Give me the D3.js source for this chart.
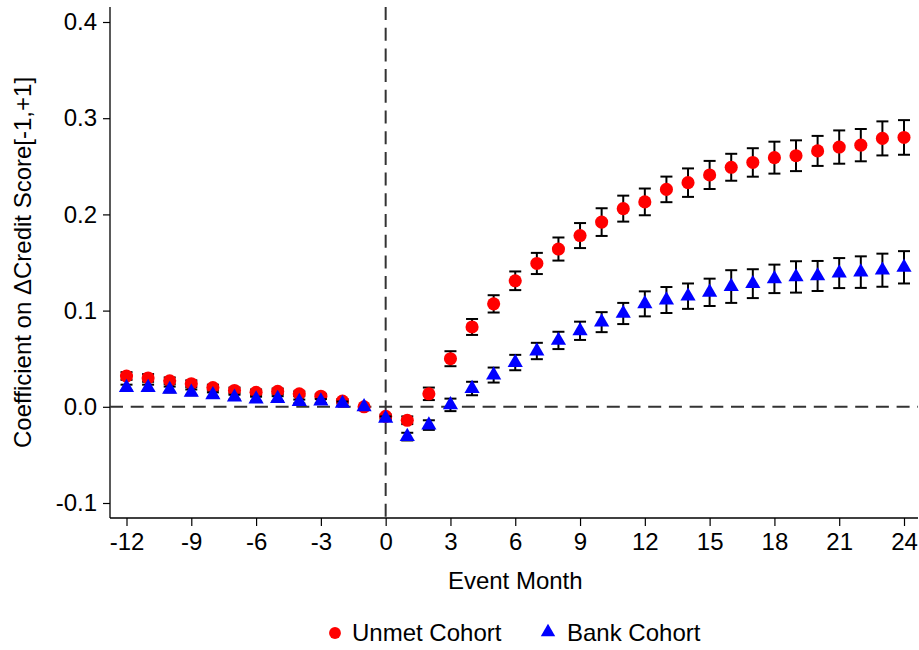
<!DOCTYPE html>
<html>
<head>
<meta charset="utf-8">
<script src="https://cdn.jsdelivr.net/npm/d3@7.9.0/dist/d3.min.js"></script>
<style>
  body { margin: 0; background: #fff; }
  svg { display: block; font-family: "Liberation Sans", Arial, sans-serif; }
</style>
</head>
<body>
<svg id="chart" width="919" height="650"></svg>
<script>
// event months -12..24
const months = d3.range(-12, 25);

// Unmet cohort: coefficient and half-width of CI
const unmetCoef = [0.032, 0.030, 0.027, 0.024, 0.020, 0.017, 0.015, 0.016, 0.0135, 0.011, 0.006, 0.000,
  -0.010, -0.014, 0.0135, 0.050, 0.083, 0.107, 0.131, 0.149, 0.164, 0.178, 0.192, 0.206, 0.213,
  0.226, 0.233, 0.241, 0.249, 0.254, 0.259, 0.261, 0.266, 0.270, 0.272, 0.279, 0.280];
const unmetErr = [0.004, 0.004, 0.0035, 0.0035, 0.003, 0.003, 0.003, 0.003, 0.0025, 0.0025, 0.002, 0,
  0.002, 0.004, 0.0065, 0.0078, 0.0083, 0.009, 0.0097, 0.011, 0.012, 0.013, 0.0144, 0.0135, 0.0139,
  0.0133, 0.0148, 0.0146, 0.014, 0.0148, 0.0166, 0.016, 0.0156, 0.0173, 0.0168, 0.0177, 0.018];

// Bank cohort
const bankCoef = [0.020, 0.020, 0.018, 0.015, 0.0125, 0.010, 0.008, 0.0085, 0.0055, 0.006, 0.0035, 0.000,
  -0.012, -0.031, -0.019, 0.002, 0.019, 0.033, 0.046, 0.058, 0.069, 0.079, 0.088, 0.097, 0.107,
  0.111, 0.115, 0.119, 0.125, 0.128, 0.133, 0.135, 0.136, 0.139, 0.140, 0.142, 0.145];
const bankErr = [0.003, 0.003, 0.003, 0.003, 0.0025, 0.0025, 0.0025, 0.0025, 0.002, 0.002, 0.002, 0,
  0.002, 0.004, 0.005, 0.0065, 0.007, 0.0078, 0.008, 0.0085, 0.009, 0.0095, 0.0104, 0.011, 0.013,
  0.0135, 0.0132, 0.0142, 0.017, 0.015, 0.0148, 0.0163, 0.0156, 0.0156, 0.0164, 0.0172, 0.0168];

const xTicks = [-12, -9, -6, -3, 0, 3, 6, 9, 12, 15, 18, 21, 24];
const yTicks = [-0.1, 0.0, 0.1, 0.2, 0.3, 0.4];

const svg = d3.select('#chart');
const FS = 24;

const plotLeft = 110, plotRight = 918, plotTop = 7, plotBottom = 518;

const x = d3.scaleLinear().domain([-12, 24]).range([126.5, 904]);
const y = d3.scaleLinear().domain([-0.1, 0.4]).range([503, 22]);

// plain hyphen instead of unicode minus (like the original)
const fmtX = (d) => String(d);
const fmtY = (d) => d3.format('.1f')(d).replace('\u2212', '-');

// --- axes ---
const xAxis = svg.append('g')
  .attr('transform', `translate(0,${plotBottom})`)
  .call(d3.axisBottom(x).tickValues(xTicks).tickSize(8).tickPadding(7).tickFormat(fmtX));
xAxis.select('.domain').remove();
xAxis.selectAll('text').attr('font-size', FS).attr('fill', '#000').attr('font-family', null);
xAxis.selectAll('line').attr('stroke', '#000').attr('stroke-width', 1.2);

const yAxis = svg.append('g')
  .attr('transform', `translate(${plotLeft},0)`)
  .call(d3.axisLeft(y).tickValues(yTicks).tickSize(7).tickPadding(6).tickFormat(fmtY));
yAxis.select('.domain').remove();
yAxis.selectAll('text').attr('font-size', FS).attr('fill', '#000').attr('font-family', null);
yAxis.selectAll('line').attr('stroke', '#000').attr('stroke-width', 1.2);

// axis lines
svg.append('line').attr('x1', plotLeft).attr('x2', plotRight)
  .attr('y1', plotBottom).attr('y2', plotBottom).attr('stroke', '#000').attr('stroke-width', 1.3);
svg.append('line').attr('x1', plotLeft).attr('x2', plotLeft)
  .attr('y1', plotTop).attr('y2', plotBottom).attr('stroke', '#000').attr('stroke-width', 1.3);

// reference lines (dashed)
svg.append('line').attr('x1', plotLeft).attr('x2', plotRight)
  .attr('y1', y(0)).attr('y2', y(0))
  .attr('stroke', '#333').attr('stroke-width', 2).attr('stroke-dasharray', '13,7.7');
svg.append('line').attr('x1', x(0)).attr('x2', x(0))
  .attr('y1', plotTop).attr('y2', plotBottom)
  .attr('stroke', '#333').attr('stroke-width', 2).attr('stroke-dasharray', '13,7.7');

// axis titles
svg.append('text')
  .attr('x', x(6)).attr('y', 589)
  .attr('text-anchor', 'middle').attr('font-size', FS)
  .text('Event Month');

svg.append('text')
  .attr('transform', `translate(31,${(y(0.4) + y(-0.1)) / 2}) rotate(-90)`)
  .attr('text-anchor', 'middle').attr('font-size', FS)
  .text('Coefficient on \u0394Credit Score[-1,+1]');

// --- error bars + markers ---
function drawSeries(coef, err, color, symbol, size) {
  const data = months.map((m, i) => ({ m, v: coef[i], e: err[i] }));
  const g = svg.append('g');
  const bars = data.filter((d) => d.e > 0);
  g.selectAll('line.bar').data(bars).join('line')
    .attr('x1', (d) => x(d.m)).attr('x2', (d) => x(d.m))
    .attr('y1', (d) => y(d.v - d.e)).attr('y2', (d) => y(d.v + d.e))
    .attr('stroke', '#000').attr('stroke-width', 2);
  [-1, 1].forEach((s) => {
    g.selectAll(null).data(bars).join('line')
      .attr('x1', (d) => x(d.m) - 6).attr('x2', (d) => x(d.m) + 6)
      .attr('y1', (d) => y(d.v + s * d.e)).attr('y2', (d) => y(d.v + s * d.e))
      .attr('stroke', '#000').attr('stroke-width', 2);
  });
  g.selectAll('path').data(data).join('path')
    .attr('d', d3.symbol().type(symbol).size(size))
    .attr('transform', (d) => `translate(${x(d.m)},${y(d.v)})`)
    .attr('fill', color);
}

drawSeries(unmetCoef, unmetErr, '#ff0000', d3.symbolCircle, 135);
drawSeries(bankCoef, bankErr, '#0000ff', d3.symbolTriangle, 100);

// --- legend ---
const legend = svg.append('g').attr('font-size', FS);
legend.append('path')
  .attr('d', d3.symbol().type(d3.symbolCircle).size(110))
  .attr('transform', 'translate(335,633)').attr('fill', '#ff0000');
legend.append('text').attr('x', 352).attr('y', 641).text('Unmet Cohort');
legend.append('path')
  .attr('d', d3.symbol().type(d3.symbolTriangle).size(90))
  .attr('transform', 'translate(548,632)').attr('fill', '#0000ff');
legend.append('text').attr('x', 567).attr('y', 641).text('Bank Cohort');
</script>
</body>
</html>
